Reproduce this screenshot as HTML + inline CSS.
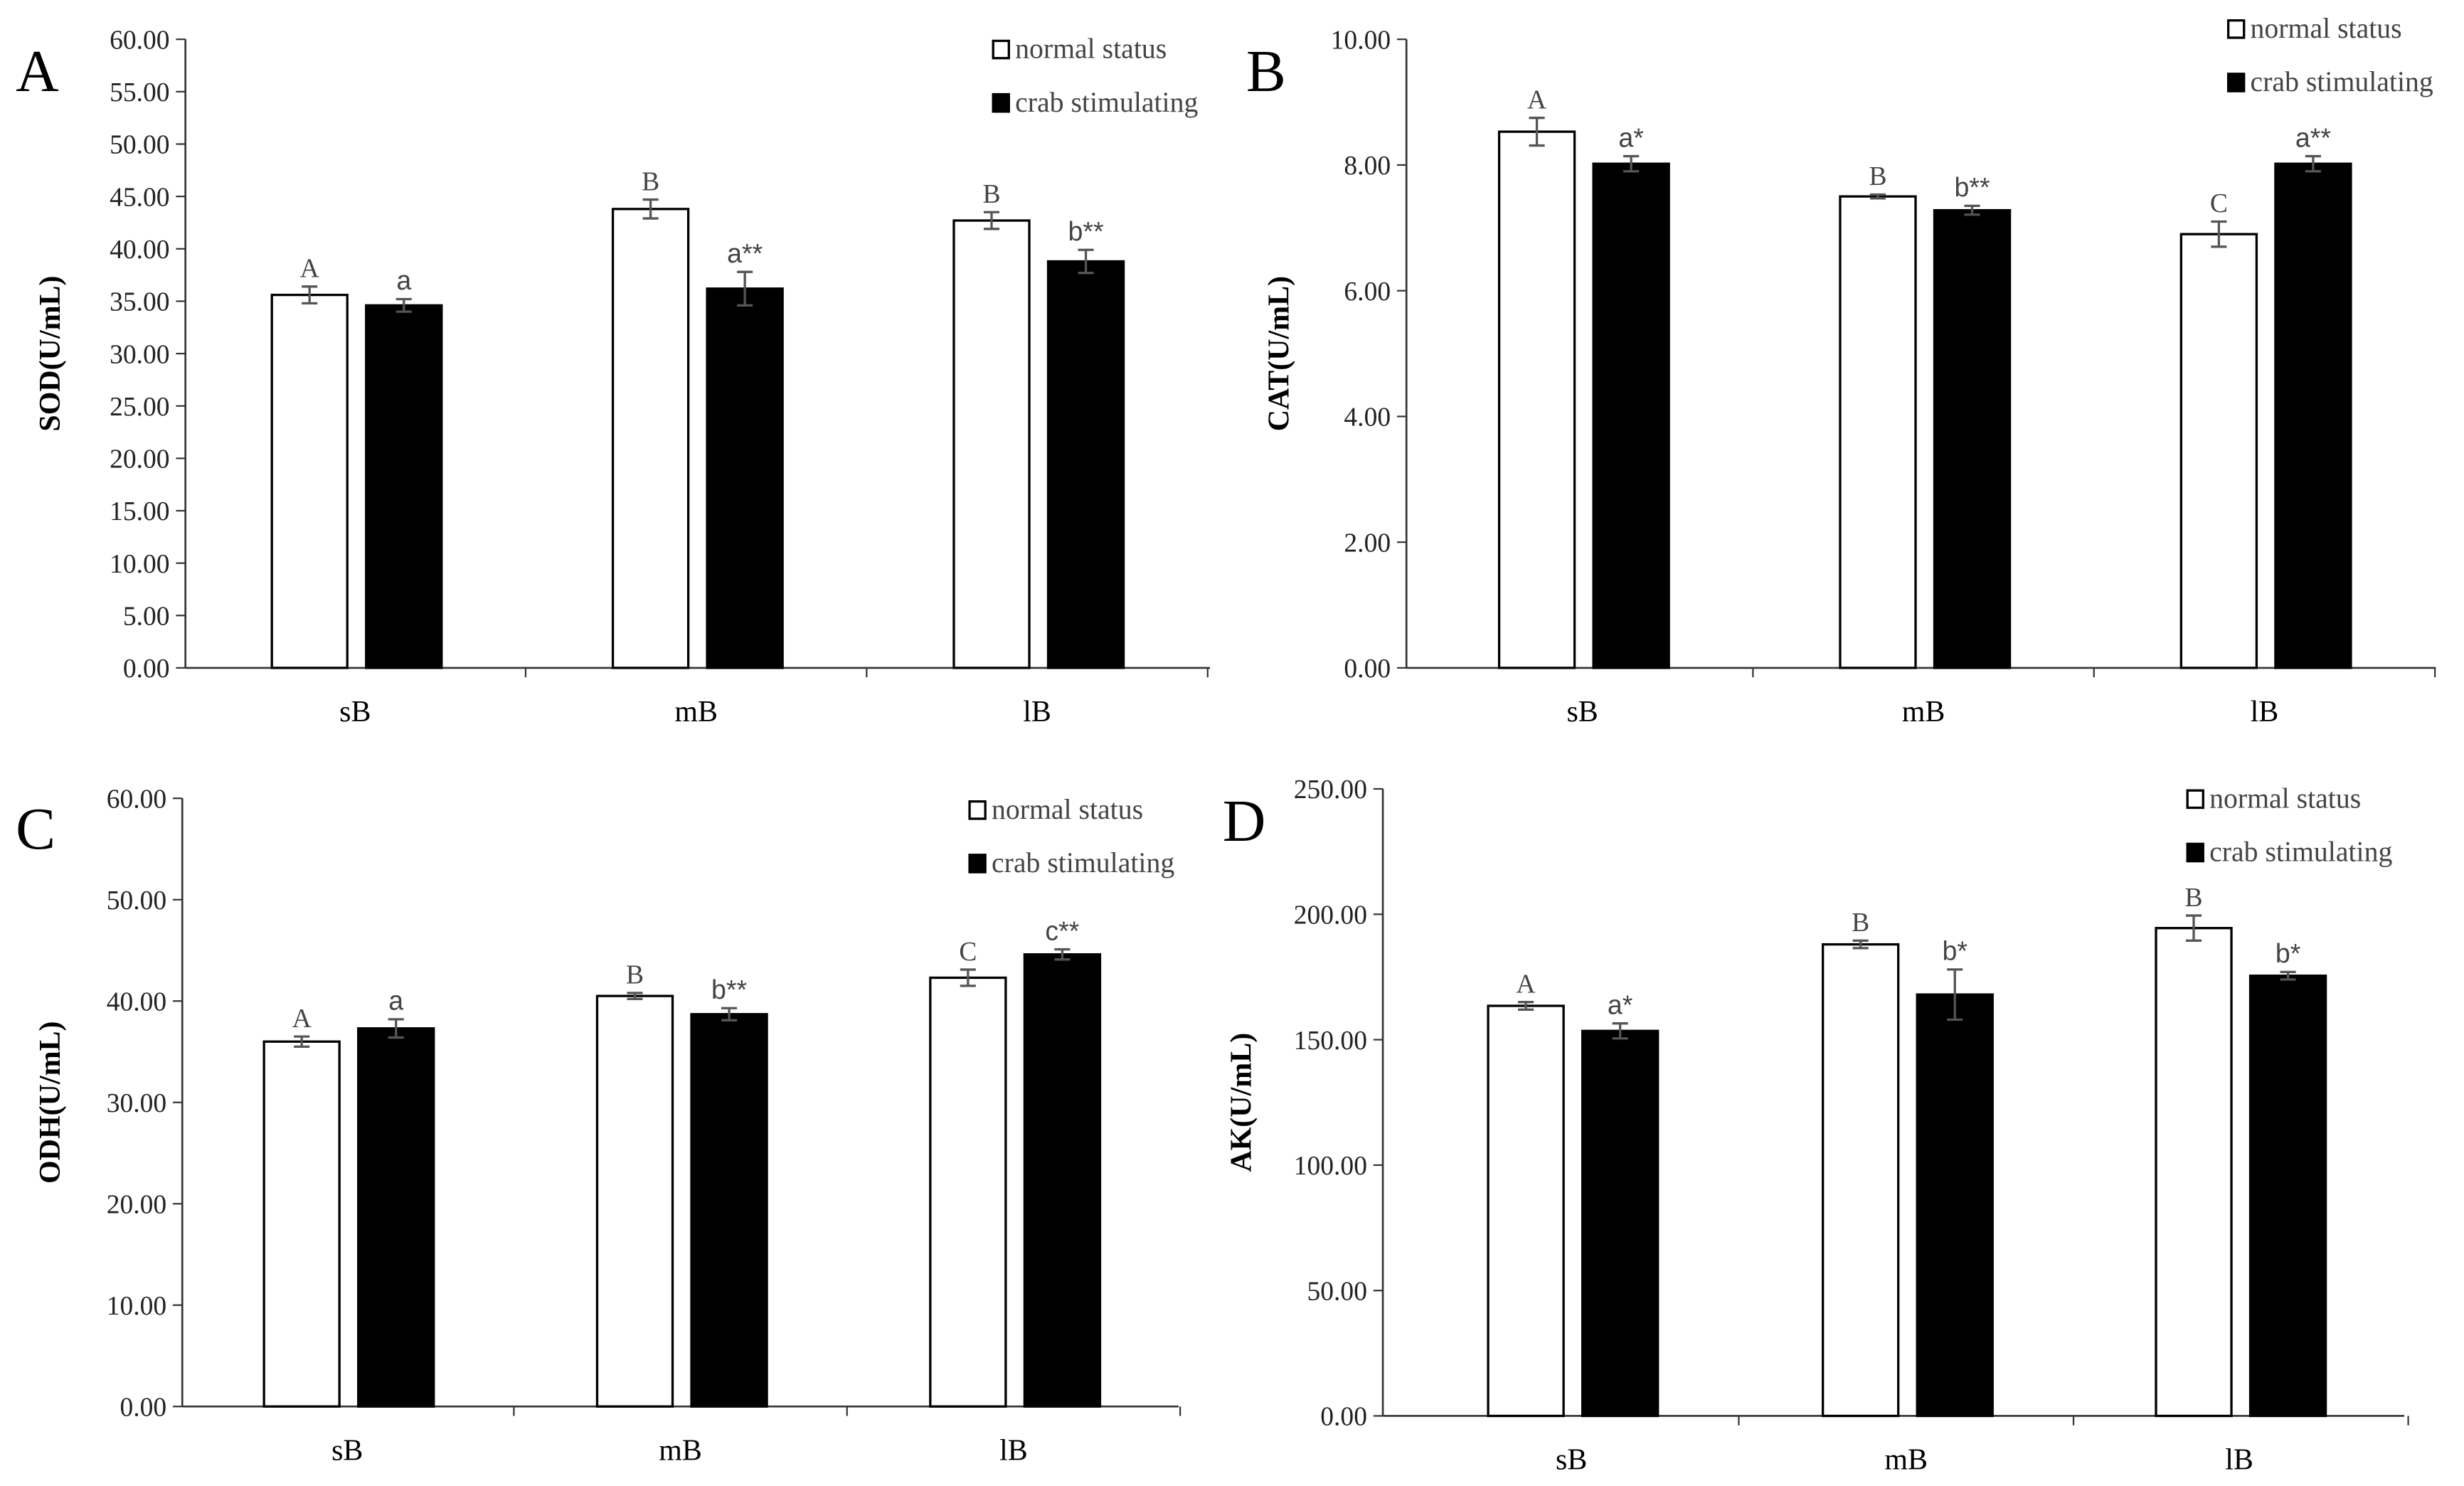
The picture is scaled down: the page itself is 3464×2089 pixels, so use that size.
<!DOCTYPE html>
<html><head><meta charset="utf-8"><style>html,body{margin:0;padding:0;background:#fff}svg{display:block}</style></head>
<body>
<svg id="chart" xmlns="http://www.w3.org/2000/svg" width="3464" height="2089" viewBox="0 0 1568 945.6" preserveAspectRatio="none" font-family="Liberation Serif, serif"></svg>
<script>
const categories = ["sB","mB","lB"];
const sodNormal = [35.6,43.8,42.7], sodCrab = [34.6,36.2,38.8];
const sodNormalErr = [0.8,0.9,0.8], sodCrabErr = [0.6,1.6,1.1];
const sodNormalLbl = ["A","B","B"], sodCrabLbl = ["a","a**","b**"];
const sodTicks = [0,5,10,15,20,25,30,35,40,45,50,55,60];
const catNormal = [8.53,7.50,6.90], catCrab = [8.02,7.28,8.02];
const catNormalErr = [0.22,0.03,0.2], catCrabErr = [0.12,0.07,0.12];
const catNormalLbl = ["A","B","C"], catCrabLbl = ["a*","b**","a**"];
const catTicks = [0,2,4,6,8,10];
const odhNormal = [36.0,40.5,42.3], odhCrab = [37.3,38.7,44.6];
const odhNormalErr = [0.5,0.3,0.8], odhCrabErr = [0.9,0.6,0.5];
const odhNormalLbl = ["A","B","C"], odhCrabLbl = ["a","b**","c**"];
const odhTicks = [0,10,20,30,40,50,60];
const akNormal = [163.5,188,194.5], akCrab = [153.5,168,175.5];
const akNormalErr = [1.5,1.5,5], akCrabErr = [3,10,1.5];
const akNormalLbl = ["A","B","B"], akCrabLbl = ["a*","b*","b*"];
const akTicks = [0,50,100,150,200,250];

const panels = [
 {id:"sod",letter:"A",lx:10,ly:58,title:"SOD(U/mL)",ax:118,top:25,bot:425,xend:770,cats:[226,443,660],ticks:sodTicks,n:sodNormal,c:sodCrab,ne:sodNormalErr,ce:sodCrabErr,nl:sodNormalLbl,cl:sodCrabLbl,legx:632,legy:26,ylx:38},
 {id:"cat",letter:"B",lx:793,ly:58,title:"CAT(U/mL)",ax:895,top:25,bot:425,xend:1550,cats:[1007,1224,1441],ticks:catTicks,n:catNormal,c:catCrab,ne:catNormalErr,ce:catCrabErr,nl:catNormalLbl,cl:catCrabLbl,legx:1418,legy:13,ylx:820},
 {id:"odh",letter:"C",lx:10,ly:540,title:"ODH(U/mL)",ax:116,top:508,bot:895,xend:750,cats:[221,433,645],ticks:odhTicks,n:odhNormal,c:odhCrab,ne:odhNormalErr,ce:odhCrabErr,nl:odhNormalLbl,cl:odhCrabLbl,legx:617,legy:510,ylx:38},
 {id:"ak",letter:"D",lx:778,ly:535,title:"AK(U/mL)",ax:880,top:502,bot:901,xend:1530,cats:[1000,1213,1425],ticks:akTicks,n:akNormal,c:akCrab,ne:akNormalErr,ce:akCrabErr,nl:akNormalLbl,cl:akCrabLbl,legx:1392,legy:503,ylx:796}
];
const svg = document.getElementById('chart');
const NS = "http://www.w3.org/2000/svg";
function mk(tag, attrs, parent, text){const e=document.createElementNS(NS,tag);for(const k in attrs)e.setAttribute(k,attrs[k]);if(text!==undefined)e.textContent=text;parent.appendChild(e);return e;}
panels.forEach(p=>{
  const g=mk('g',{},svg);
  
  
  const max=p.ticks[p.ticks.length-1], min=p.ticks[0];
  const y=v=>p.bot-(v-min)/(max-min)*(p.bot-p.top);
  const lt=mk('text',{x:p.lx,y:p.ly,'font-size':38},g,p.letter);
  
  
  const yl=mk('text',{x:p.ylx,y:(p.top+p.bot)/2,'font-size':19,'font-weight':'bold','text-anchor':'middle',transform:`rotate(-90 ${p.ylx} ${(p.top+p.bot)/2})`},g,p.title);
  
  
  p.ticks.forEach(t=>{
    mk('line',{x1:p.ax-6,x2:p.ax,y1:y(t),y2:y(t),stroke:'#333','stroke-width':1},g);
    const tl=mk('text',{x:p.ax-10,y:y(t)+6,'font-size':17,'text-anchor':'end',fill:'#222'},g,t.toFixed(2));
    
    
  });
  mk('line',{x1:p.ax,x2:p.ax,y1:p.top,y2:p.bot,stroke:'#333','stroke-width':1.2},g);
  mk('line',{x1:p.ax,x2:p.xend,y1:p.bot,y2:p.bot,stroke:'#333','stroke-width':1.2},g);
  const gw=p.cats[1]-p.cats[0];
  [1,2,3].forEach(i=>{const x=p.cats[0]-gw/2+gw*i;mk('line',{x1:x,x2:x,y1:p.bot,y2:p.bot+6,stroke:'#333','stroke-width':1},g);});
  categories.forEach((c,i)=>{
    const cx=p.cats[i];
    const cl=mk('text',{x:cx,y:p.bot+34,'font-size':19,'text-anchor':'middle'},g,c);
    
    
    [[p.n,p.ne,p.nl,-29,'#fff','normal'],[p.c,p.ce,p.cl,31,'#000','crab']].forEach(s=>{
      const v=s[0][i], e=s[1][i], bx=cx+s[3];
      const r=mk('rect',{x:bx-24,y:y(v),width:48,height:p.bot-y(v),fill:s[4],stroke:'#000','stroke-width':1.5},g);
      
      
      mk('line',{x1:bx,x2:bx,y1:y(v+e),y2:y(v-e),stroke:'#555','stroke-width':1.5},g);
      mk('line',{x1:bx-5,x2:bx+5,y1:y(v+e),y2:y(v+e),stroke:'#555','stroke-width':1.5},g);
      mk('line',{x1:bx-5,x2:bx+5,y1:y(v-e),y2:y(v-e),stroke:'#555','stroke-width':1.5},g);
      const sl=mk('text',{x:bx,y:y(v+e)-6,'font-size':17,'text-anchor':'middle',fill:'#444','font-family':s[5]==='crab'?'Liberation Sans, sans-serif':'Liberation Serif, serif'},g,s[2][i]);
      
      
    });
  });
  [['normal status','#fff',0],['crab stimulating','#000',34]].forEach(l=>{
    const lg=mk('g',{},g);
    
    
    mk('rect',{x:p.legx,y:p.legy+l[2],width:10,height:11,fill:l[1],stroke:'#000','stroke-width':1.5},lg);
    mk('text',{x:p.legx+14,y:p.legy+l[2]+11,'font-size':18,fill:'#444'},lg,l[0]);
  });
});
</script>
</body></html>
